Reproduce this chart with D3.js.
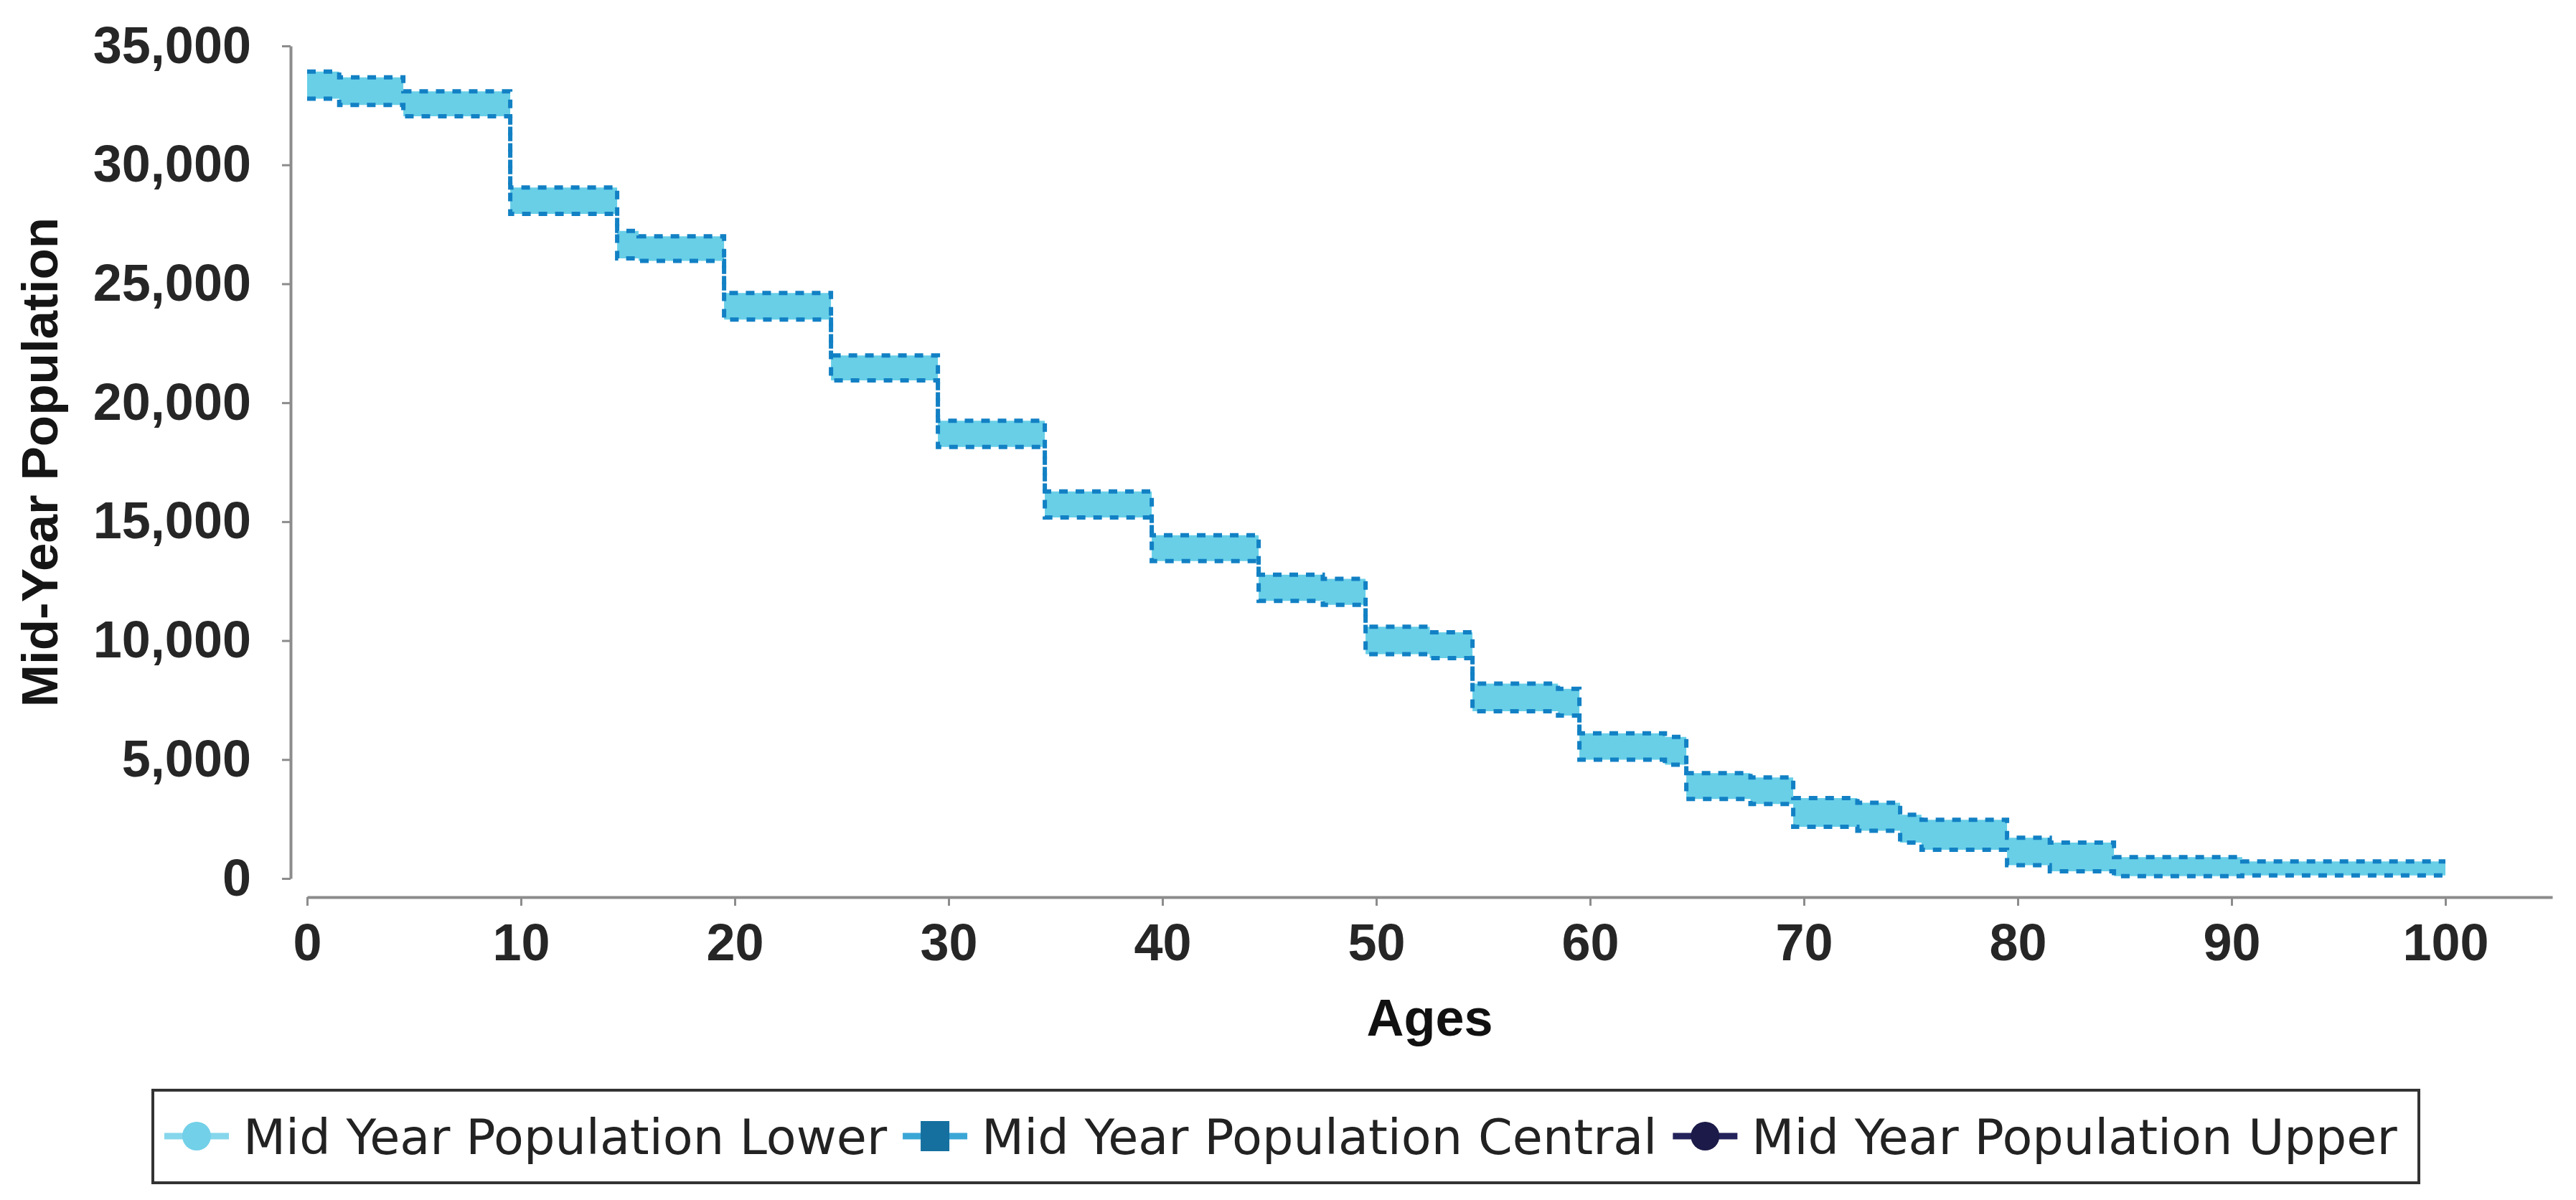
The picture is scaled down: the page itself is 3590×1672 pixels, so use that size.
<!DOCTYPE html>
<html>
<head>
<meta charset="utf-8">
<script src="https://cdn.jsdelivr.net/npm/d3@7"></script>
<style>
  body { margin: 0; background: #fff; }
  svg { display: block; }
</style>
</head>
<body>
<div id="container"></div>
<script>
/* CONSTANTS AND GLOBALS */
const width = 3590,
  height = 1672;

/* DATA (one value per single year of age) */
const ages = d3.range(0, 101);

const lowerPop = [
  32780, 32780, 32520, 32520, 32520,
  32040, 32040, 32040, 32040, 32040,
  27940, 27940, 27940, 27940, 27940,
  26070, 25960, 25960, 25960, 25960,
  23500, 23500, 23500, 23500, 23500,
  20940, 20940, 20940, 20940, 20940,
  18140, 18140, 18140, 18140, 18140,
  15180, 15180, 15180, 15180, 15180,
  13340, 13340, 13340, 13340, 13340,
  11670, 11670, 11670, 11500, 11500,
  9430, 9430, 9430, 9260, 9260,
  7030, 7030, 7030, 7030, 6850,
  4990, 4990, 4990, 4990, 4780,
  3340, 3340, 3340, 3130, 3130,
  2170, 2170, 2170, 2010, 2010,
  1510, 1210, 1210, 1210, 1210,
  560, 560, 300, 300, 300,
  100, 100, 100, 100, 100, 100,
  130, 130, 130, 130, 130, 130, 130, 130, 130, 130
];

const upperPop = [
  33920, 33920, 33680, 33680, 33680,
  33090, 33090, 33090, 33090, 33090,
  29050, 29050, 29050, 29050, 29050,
  27220, 27000, 27000, 27000, 27000,
  24610, 24610, 24610, 24610, 24610,
  21990, 21990, 21990, 21990, 21990,
  19240, 19240, 19240, 19240, 19240,
  16270, 16270, 16270, 16270, 16270,
  14430, 14430, 14430, 14430, 14430,
  12770, 12770, 12770, 12600, 12600,
  10580, 10580, 10580, 10350, 10350,
  8190, 8190, 8190, 8190, 7970,
  6100, 6100, 6100, 6100, 5950,
  4430, 4430, 4430, 4250, 4250,
  3380, 3380, 3380, 3180, 3180,
  2680, 2470, 2470, 2470, 2470,
  1710, 1710, 1510, 1510, 1510,
  900, 900, 900, 900, 900, 900,
  720, 720, 720, 720, 720, 720, 720, 720, 720, 720
];

const xTicks = [0, 10, 20, 30, 40, 50, 60, 70, 80, 90, 100];
const yTicks = [0, 5000, 10000, 15000, 20000, 25000, 30000, 35000];

const legendLabels = ["Mid Year Population Lower", "Mid Year Population Central", "Mid Year Population Upper"];
const legendLineColors = ["#86d6ec", "#3aa6d6", "#23225a"];
const legendMarkColors = ["#72d0e8", "#15709f", "#1b1a48"];
const legendShapes = ["circle", "square", "circle"];

const data = ages.map((a, i) => ({ age: a, lower: lowerPop[i], upper: upperPop[i] }));

/* SCALES */
const xScale = d3.scaleLinear()
  .domain([0, 105])
  .range([428, 3557]);

const yScale = d3.scaleLinear()
  .domain([0, 35000])
  .range([1224, 64]);

/* HTML ELEMENTS */
const svg = d3.select("#container")
  .append("svg")
  .attr("width", width)
  .attr("height", height);

// band between lower and upper
const band = d3.area()
  .curve(d3.curveStep)
  .x(d => xScale(d.age))
  .y0(d => yScale(d.lower))
  .y1(d => yScale(d.upper));

svg.append("path")
  .datum(data)
  .attr("d", band)
  .attr("fill", "#68cfe7");

// dashed edges
["lower", "upper"].forEach(key => {
  const line = d3.line()
    .curve(d3.curveStep)
    .x(d => xScale(d.age))
    .y(d => yScale(d[key]));
  svg.append("path")
    .datum(data)
    .attr("d", line)
    .attr("fill", "none")
    .attr("stroke", "#1280c4")
    .attr("stroke-width", 6)
    .attr("stroke-dasharray", "12,11");
});

// axes
const yAxis = d3.axisLeft(yScale)
  .tickValues(yTicks)
  .tickFormat(d3.format(","))
  .tickSize(12)
  .tickSizeOuter(0)
  .tickPadding(43);

const gy = svg.append("g")
  .attr("transform", "translate(405,0)")
  .call(yAxis);

const xAxis = d3.axisBottom(xScale)
  .tickValues(xTicks)
  .tickSize(12)
  .tickSizeOuter(0)
  .tickPadding(25);

const gx = svg.append("g")
  .attr("transform", "translate(0,1250)")
  .call(xAxis);

[gy, gx].forEach(g => {
  g.select(".domain").attr("stroke", "#8c8c8c").attr("stroke-width", 4);
  g.selectAll(".tick line").attr("stroke", "#8c8c8c").attr("stroke-width", 3);
  g.selectAll(".tick text")
    .attr("fill", "#262626")
    .style("font-family", "'Liberation Sans', Arial, sans-serif")
    .style("font-weight", "bold")
    .style("font-size", "72px");
});

// axis titles
svg.append("text")
  .attr("transform", "translate(80,644) rotate(-90)")
  .attr("text-anchor", "middle")
  .style("font-family", "'Liberation Sans', Arial, sans-serif")
  .style("font-weight", "bold")
  .style("font-size", "71px")
  .attr("fill", "#151515")
  .text("Mid-Year Population");

svg.append("text")
  .attr("x", xScale(52.5))
  .attr("y", 1443)
  .attr("text-anchor", "middle")
  .style("font-family", "'Liberation Sans', Arial, sans-serif")
  .style("font-weight", "bold")
  .style("font-size", "72px")
  .attr("fill", "#111")
  .text("Ages");

// legend
const legend = svg.append("g");

legend.append("rect")
  .attr("x", 213)
  .attr("y", 1519)
  .attr("width", 3158)
  .attr("height", 129)
  .attr("fill", "#fff")
  .attr("stroke", "#333")
  .attr("stroke-width", 4);

const legendY = 1583;
let cursor = 229;
legendLabels.forEach((label, i) => {
  const item = legend.append("g");
  item.append("line")
    .attr("x1", cursor).attr("x2", cursor + 90)
    .attr("y1", legendY).attr("y2", legendY)
    .attr("stroke", legendLineColors[i])
    .attr("stroke-width", 9);
  if (legendShapes[i] === "circle") {
    item.append("circle")
      .attr("cx", cursor + 45).attr("cy", legendY).attr("r", 20)
      .attr("fill", legendMarkColors[i]);
  } else {
    item.append("rect")
      .attr("x", cursor + 25).attr("y", legendY - 21)
      .attr("width", 40).attr("height", 42)
      .attr("fill", legendMarkColors[i]);
  }
  const t = item.append("text")
    .attr("x", cursor + 110)
    .attr("y", legendY + 25)
    .style("font-family", "'DejaVu Sans', Verdana, sans-serif")
    .style("font-size", "68.5px")
    .attr("fill", "#222")
    .text(label);
  cursor += 110 + t.node().getComputedTextLength() + 22;
});
</script>
</body>
</html>
